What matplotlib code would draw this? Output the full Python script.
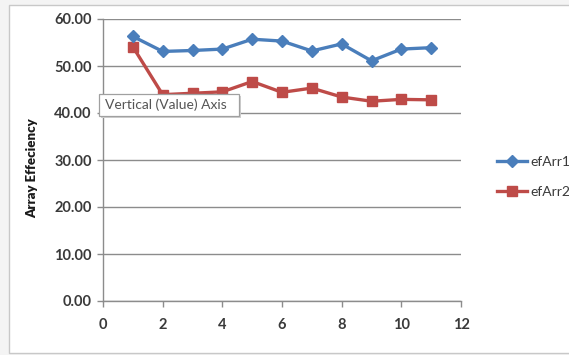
import matplotlib
matplotlib.use("Agg")
import matplotlib.pyplot as plt
from matplotlib.patches import Rectangle

x_vals = [1, 2, 3, 4, 5, 6, 7, 8, 9, 10, 11]
ef_arr1 = [56.3, 53.1, 53.3, 53.6, 55.7, 55.3, 53.2, 54.7, 51.1, 53.6, 53.9]
ef_arr2 = [54.1, 43.9, 44.2, 44.5, 46.7, 44.4, 45.3, 43.4, 42.5, 42.9, 42.8]
series_names = ["efArr1", "efArr2"]
y_ticks = [0, 10, 20, 30, 40, 50, 60]
x_ticks = [0, 2, 4, 6, 8, 10, 12]

plt.rcParams["font.family"] = ["Lato", "DejaVu Sans"]

W, H = 569, 355
fig = plt.figure(figsize=(W / 100, H / 100), dpi=100)
fig.patch.set_facecolor("#f4f4f4")

# chart area frame
frame = Rectangle((9 / W, 1 - 353 / H), (W + 20) / W, (353 - 5) / H,
                  transform=fig.transFigure, facecolor="white",
                  edgecolor="#c8c8c8", linewidth=1.0, zorder=-5)
fig.patches.append(frame)

ax = fig.add_axes([103 / W, 1 - 301 / H, (461 - 103) / W, (301 - 19) / H])
ax.set_zorder(2)
ax.set_facecolor("white")

blue = "#4a7ebb"
red = "#be4b48"
ax.plot(x_vals, ef_arr1, color=blue, lw=2.4, marker="D", ms=6.5,
        mfc=blue, mec=blue, label=series_names[0], zorder=4)
ax.plot(x_vals, ef_arr2, color=red, lw=2.4, marker="s", ms=7.5,
        mfc=red, mec=red, label=series_names[1], zorder=3)

ax.set_xlim(0, 12)
ax.set_ylim(0, 60)
ax.set_xticks(x_ticks)
ax.set_yticks(y_ticks)
ax.set_yticklabels([f"{v:.2f}" for v in y_ticks])
ax.yaxis.grid(True, color="#8c8c8c", lw=1.0)
ax.set_axisbelow(True)

for s in ["top", "right"]:
    ax.spines[s].set_visible(False)
for s in ["left", "bottom"]:
    ax.spines[s].set_color("#8c8c8c")
    ax.spines[s].set_linewidth(1.0)

ax.tick_params(axis="both", direction="out", length=4, width=1.0,
               color="#8c8c8c", labelsize=10.5, labelcolor="#3a3a3a")
ax.tick_params(axis="x", pad=8)
ax.tick_params(axis="y", pad=4)
for lbl in ax.get_xticklabels() + ax.get_yticklabels():
    lbl.set_fontweight("bold")

ax.set_ylabel("Array Effeciency", fontsize=9.5, fontweight="heavy",
              color="#1a1a1a")
ax.yaxis.set_label_coords(-65 / 358, 0.47)

leg = ax.legend(loc="center left", bbox_to_anchor=(484 / W, 1 - 177 / H),
                bbox_transform=fig.transFigure, frameon=False,
                fontsize=10, handlelength=2.2, handletextpad=0.25,
                labelspacing=1.3, markerscale=0.9)
for t in leg.get_texts():
    t.set_color("#3a3a3a")

# hover tooltip over the value axis
tip_x0, tip_y0, tip_w, tip_h = 99 / W, 1 - 116 / H, 140 / W, 22 / H
shadow = Rectangle((tip_x0 + 2 / W, tip_y0 - 2 / H), tip_w, tip_h,
                   transform=fig.transFigure, facecolor="#d0d0d0",
                   edgecolor="none", zorder=9)
box = Rectangle((tip_x0, tip_y0), tip_w, tip_h, transform=fig.transFigure,
                facecolor="white", edgecolor="#a0a0a0", linewidth=0.9,
                zorder=10)
fig.patches.extend([shadow, box])
fig.text(tip_x0 + 6 / W, tip_y0 + tip_h / 2, "Vertical (Value) Axis",
         fontsize=10, color="#555555", va="center", ha="left", zorder=11)

fig.savefig("out.png", dpi=100, facecolor=fig.get_facecolor())
